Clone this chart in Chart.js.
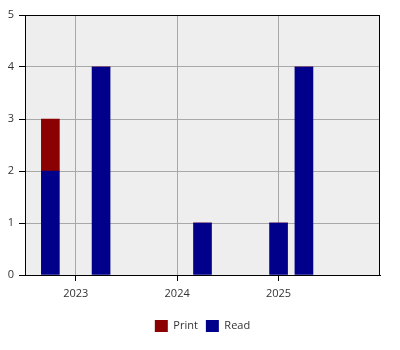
<!DOCTYPE html>
<html>
<head>
<meta charset="utf-8">
<script src="https://cdn.jsdelivr.net/npm/chart.js@4"></script>
<style>
  html, body { margin: 0; padding: 0; background: #ffffff; }
  #wrap { width: 400px; height: 350px; }
</style>
</head>
<body>
<div id="wrap"><canvas id="chart-books"></canvas></div>
<script>
const quarters = ["2022 Q4", "2023 Q2", "2024 Q2", "2025 Q1", "2025 Q2"];
const readValues = [2, 4, 1, 1, 4];
const printValues = [1, 0, 0, 0, 0];
const yearTicks = [2023, 2024, 2025];

// "2023 Q2" -> 2023.25
function quarterToYear(q) {
  const parts = q.split(" Q");
  return Number(parts[0]) + (Number(parts[1]) - 1) / 4;
}

const points = (values) =>
  quarters.map((q, i) => ({ x: quarterToYear(q), y: values[i] }));

const plotFrame = {
  id: "plotFrame",
  beforeDraw(chart) {
    const { ctx, chartArea: a } = chart;
    ctx.save();
    ctx.fillStyle = "#eeeeee";
    ctx.fillRect(a.left, a.top, a.right - a.left, a.bottom - a.top);
    ctx.restore();
  },
  afterDatasetsDraw(chart) {
    const { ctx, chartArea: a } = chart;
    ctx.save();
    ctx.strokeStyle = "#000000";
    ctx.lineWidth = 1;
    ctx.strokeRect(Math.round(a.left) + 0.5, Math.round(a.top) + 0.5,
      Math.round(a.right - a.left) - 1, Math.round(a.bottom - a.top));
    ctx.restore();
  },
};

Chart.defaults.font.family = "'Open Sans', sans-serif";
Chart.defaults.font.size = 11;
Chart.defaults.color = "#333333";

const ctx = document.getElementById("chart-books");
const chart = new Chart(ctx, {
  type: "bar",
  data: {
    datasets: [
      {
        label: "Read",
        data: points(readValues),
        backgroundColor: "#00008b",
        barThickness: 18,
      },
      {
        label: "Print",
        data: points(printValues),
        backgroundColor: "#8b0000",
        barThickness: 18,
      },
    ],
  },
  options: {
    responsive: true,
    maintainAspectRatio: false,
    animation: false,
    layout: { padding: { top: 15, right: 20, left: 0, bottom: 8 } },
    scales: {
      x: {
        type: "linear",
        stacked: true,
        min: 2022.5,
        max: 2026,
        offset: false,
        afterBuildTicks(scale) {
          scale.ticks = yearTicks.map((v) => ({ value: v }));
        },
        afterFit(scale) {
          scale.height = 37;
        },
        ticks: {
          padding: 6,
          color: "#333333",
          callback: (v) => String(v),
        },
        grid: {
          offset: false,
          color: "#a8a8a8",
          tickColor: "#000000",
          tickLength: 6,
        },
        border: { display: true, color: "#000000" },
      },
      y: {
        stacked: true,
        min: 0,
        max: 5,
        afterFit(scale) {
          scale.width = 25;
        },
        ticks: { stepSize: 1, padding: 5, color: "#333333" },
        grid: {
          color: "#a8a8a8",
          tickColor: "#000000",
          tickLength: 6,
        },
        border: { display: true, color: "#000000" },
      },
    },
    plugins: {
      tooltip: { enabled: false },
      legend: {
        position: "bottom",
        fullSize: false,
        reverse: true,
        labels: {
          boxWidth: 13,
          boxHeight: 12,
          padding: 8,
          color: "#333333",
        },
      },
    },
  },
  plugins: [plotFrame],
});
</script>
</body>
</html>
